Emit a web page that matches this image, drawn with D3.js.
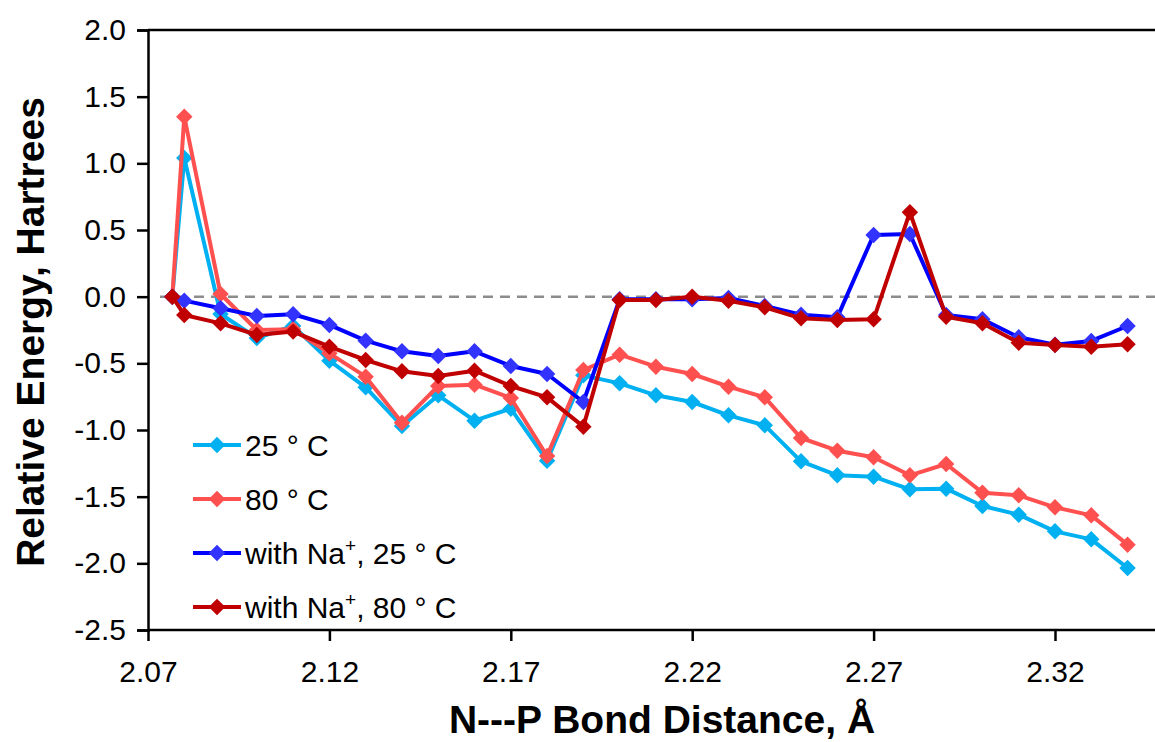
<!DOCTYPE html>
<html>
<head>
<meta charset="utf-8">
<script src="https://cdn.jsdelivr.net/npm/d3@7"></script>
<style>
  body { margin: 0; background: #fff; }
  svg { display: block; font-family: "Liberation Sans", Arial, sans-serif; }
</style>
</head>
<body>
<div id="chart"></div>
<script>
// N---P bond distance (A)
var distances = [2.0767, 2.08, 2.09, 2.10, 2.11, 2.12, 2.13, 2.14, 2.15, 2.16, 2.17, 2.18, 2.19,
    2.20, 2.21, 2.22, 2.23, 2.24, 2.25, 2.26, 2.27, 2.28, 2.29, 2.30, 2.31, 2.32, 2.33, 2.34];

// relative energies, hartrees
var energy25 = [0, 1.04, -0.13, -0.31, -0.22, -0.48, -0.68, -0.97, -0.74, -0.93, -0.84, -1.23, -0.59,
    -0.65, -0.74, -0.79, -0.89, -0.965, -1.235, -1.34, -1.35, -1.445, -1.44, -1.57, -1.635, -1.76, -1.82, -2.035];
var energy80 = [0, 1.35, 0.02, -0.25, -0.245, -0.425, -0.6, -0.945, -0.67, -0.66, -0.76, -1.195, -0.55,
    -0.435, -0.525, -0.58, -0.675, -0.755, -1.06, -1.155, -1.205, -1.34, -1.255, -1.47, -1.49, -1.58, -1.64, -1.86];
var energyNa25 = [0, -0.03, -0.087, -0.145, -0.132, -0.212, -0.33, -0.41, -0.445, -0.41, -0.52, -0.58, -0.79,
    -0.02, -0.02, -0.02, -0.01, -0.07, -0.135, -0.155, 0.463, 0.47, -0.137, -0.17, -0.305, -0.36, -0.332, -0.22];
var energyNa80 = [0, -0.137, -0.2, -0.287, -0.262, -0.375, -0.475, -0.56, -0.595, -0.555, -0.67, -0.755, -0.975,
    -0.025, -0.025, 0, -0.03, -0.08, -0.162, -0.175, -0.17, 0.633, -0.15, -0.2, -0.345, -0.362, -0.375, -0.357];

var xTicks = [2.07, 2.12, 2.17, 2.22, 2.27, 2.32];
var yTicks = [2.0, 1.5, 1.0, 0.5, 0.0, -0.5, -1.0, -1.5, -2.0, -2.5];
var zeroLineX = [2.0733, 2.35];

var seriesNames = ["25", "80", "Na25", "Na80"];
var seriesValues = [energy25, energy80, energyNa25, energyNa80];
var lineColors = ["#00B0F0", "#FF5050", "#0000FF", "#C00000"];
var markerColors = ["#00B0F0", "#FF5050", "#3333FF", "#C00000"];

var width = 1155, height = 742;

var svg = d3.select("#chart")
    .append("svg")
    .attr("width", width)
    .attr("height", height);

var x = d3.scaleLinear().domain([2.07, 2.32]).range([148, 1055]);
var y = d3.scaleLinear().domain([-2.5, 2.0]).range([630, 30]);

// dashed zero line
svg.append("line")
    .attr("x1", x(zeroLineX[0]))
    .attr("x2", x(zeroLineX[1]))
    .attr("y1", y(0))
    .attr("y2", y(0))
    .attr("stroke", "#8c8c8c")
    .attr("stroke-width", 2.5)
    .attr("stroke-dasharray", "10,7");

// top border
svg.append("line")
    .attr("x1", x(2.07))
    .attr("x2", width)
    .attr("y1", y(2.0))
    .attr("y2", y(2.0))
    .attr("stroke", "#000")
    .attr("stroke-width", 2.5);

// axes
var yAxis = svg.append("g")
    .attr("transform", "translate(" + x(2.07) + ",0)")
    .call(d3.axisLeft(y).tickValues(yTicks).tickSize(11).tickPadding(11)
        .tickFormat(function(d) { return d3.format(".1f")(d).replace("\u2212", "-"); }));

var xAxis = svg.append("g")
    .attr("transform", "translate(0," + y(-2.5) + ")")
    .call(d3.axisBottom(x).tickValues(xTicks).tickSize(11).tickPadding(20)
        .tickFormat(d3.format(".2f")));
xAxis.select(".domain").attr("d", "M" + x(2.07) + ",0H" + width);

[xAxis, yAxis].forEach(function(ax) {
    ax.select(".domain").attr("stroke", "#000").attr("stroke-width", 2.5);
    ax.selectAll(".tick line").attr("stroke", "#000").attr("stroke-width", 2.5);
    ax.selectAll(".tick text")
        .attr("fill", "#000")
        .style("font-size", "30px")
        .style("font-family", "'Liberation Sans', Arial, sans-serif");
});

// axis titles
svg.append("text")
    .attr("x", 662)
    .attr("y", 733)
    .attr("text-anchor", "middle")
    .style("font-size", "39px")
    .style("font-weight", "bold")
    .text("N---P Bond Distance, Å");

svg.append("text")
    .attr("transform", "translate(44,332) rotate(-90)")
    .attr("text-anchor", "middle")
    .style("font-size", "39px")
    .style("font-weight", "bold")
    .text("Relative Energy, Hartrees");

// series
var line = d3.line()
    .x(function(d) { return x(d[0]); })
    .y(function(d) { return y(d[1]); });

var diamond = d3.symbol().type(d3.symbolSquare).size(135);

seriesValues.forEach(function(vals, i) {
    var pts = distances.map(function(dist, j) { return [dist, vals[j]]; });
    var g = svg.append("g").attr("class", "series-" + seriesNames[i]);
    g.append("path")
        .datum(pts)
        .attr("d", line)
        .attr("fill", "none")
        .attr("stroke", lineColors[i])
        .attr("stroke-width", 4)
        .attr("stroke-linejoin", "round");
    g.selectAll("path.marker")
        .data(pts)
        .enter()
        .append("path")
        .attr("class", "marker")
        .attr("d", diamond)
        .attr("transform", function(d) { return "translate(" + x(d[0]) + "," + y(d[1]) + ") rotate(45)"; })
        .attr("fill", markerColors[i]);
});

// legend
var legendRows = [
    { label: "25 ° C", sup: false },
    { label: "80 ° C", sup: false },
    { label: "with Na", sup: true, rest: ", 25 ° C" },
    { label: "with Na", sup: true, rest: ", 80 ° C" }
];

var legend = svg.append("g");
legendRows.forEach(function(row, i) {
    var ly = 445 + i * 54;
    legend.append("line")
        .attr("x1", 193).attr("x2", 241)
        .attr("y1", ly).attr("y2", ly)
        .attr("stroke", lineColors[i])
        .attr("stroke-width", 4);
    legend.append("path")
        .attr("d", diamond)
        .attr("transform", "translate(217," + ly + ") rotate(45)")
        .attr("fill", markerColors[i]);
    var t = legend.append("text")
        .attr("x", 245)
        .attr("y", ly + 11)
        .style("font-size", "30px")
        .attr("fill", "#000");
    t.append("tspan").text(row.label);
    if (row.sup) {
        t.append("tspan").attr("dy", -12).style("font-size", "19px").text("+");
        t.append("tspan").attr("dy", 12).text(row.rest);
    }
});
</script>
</body>
</html>
